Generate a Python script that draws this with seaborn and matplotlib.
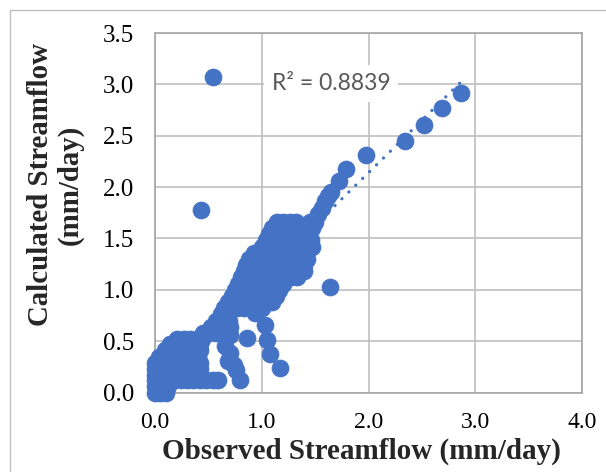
import matplotlib
matplotlib.use("Agg")
import matplotlib.pyplot as plt
from matplotlib.patches import Rectangle
import numpy as np
import pandas as pd
import seaborn as sns

# ---- data: observed vs calculated streamflow (mm/day) ----
# dense cloud near the origin and along the main diagonal band,
# grouped by calculated value -> observed values at that level
band_rows = {
    0.00: [0.00, 0.05, 0.10],
    0.06: [0.00, 0.06, 0.12],
    0.12: [0.00, 0.06, 0.12, 0.18, 0.24, 0.30, 0.36, 0.42, 0.48, 0.54, 0.59],
    0.17: [0.00, 0.06, 0.12, 0.18, 0.24, 0.30, 0.36, 0.42],
    0.23: [0.00, 0.06, 0.12, 0.18, 0.24, 0.30, 0.36, 0.42],
    0.29: [0.00, 0.06, 0.12, 0.18, 0.24, 0.30, 0.36, 0.42],
    0.35: [0.04, 0.10, 0.16, 0.22, 0.28, 0.34, 0.40],
    0.41: [0.09, 0.15, 0.21, 0.27, 0.33, 0.39, 0.42],
    0.47: [0.14, 0.20, 0.26, 0.32, 0.38, 0.42],
    0.52: [0.21, 0.27, 0.33, 0.39, 0.44],
    0.58: [0.45, 0.51, 0.57, 0.63, 0.69],
    0.64: [0.52, 0.58, 0.64, 0.70],
    0.70: [0.57, 0.63, 0.69],
    0.76: [0.62, 0.68],
    0.82: [0.65, 0.71, 0.77, 0.83, 0.89, 0.95, 1.00],
    0.88: [0.68, 0.74, 0.80, 0.86, 0.92, 0.98, 1.04, 1.10],
    0.94: [0.72, 0.78, 0.84, 0.90, 0.96, 1.02, 1.08, 1.13],
    1.00: [0.75, 0.81, 0.87, 0.93, 0.99, 1.05, 1.11, 1.16],
    1.06: [0.78, 0.84, 0.90, 0.96, 1.02, 1.08, 1.14, 1.20],
    1.12: [0.81, 0.87, 0.93, 0.99, 1.05, 1.11, 1.27, 1.33],
    1.18: [0.83, 0.89, 0.95, 1.01, 1.07, 1.12, 1.28, 1.34, 1.40],
    1.24: [0.85, 0.91, 0.97, 1.03, 1.09, 1.15, 1.21, 1.27, 1.33, 1.40],
    1.30: [0.88, 0.94, 1.00, 1.06, 1.12, 1.18, 1.24, 1.30, 1.36, 1.42],
    1.36: [0.93, 0.99, 1.05, 1.11, 1.17, 1.23, 1.29, 1.35, 1.41],
    1.42: [1.00, 1.06, 1.12, 1.18, 1.24, 1.30, 1.36, 1.42, 1.47],
    1.48: [1.04, 1.10, 1.16, 1.22, 1.28, 1.34, 1.40, 1.46],
    1.54: [1.07, 1.13, 1.19, 1.25, 1.31, 1.37, 1.43],
    1.60: [1.10, 1.16, 1.22, 1.35, 1.41, 1.47],
    1.66: [1.14, 1.20, 1.26, 1.32, 1.45, 1.50],
}

# upper tail of the diagonal
tail_obs = [1.53, 1.56, 1.59, 1.62, 1.65, 1.72, 1.79, 1.98, 2.34, 2.52, 2.69, 2.87]
tail_calc = [1.74, 1.80, 1.86, 1.91, 1.95, 2.06, 2.18, 2.31, 2.45, 2.60, 2.77, 2.92]

# scattered points off the main band
outlier_obs = [0.54, 0.43, 1.64, 1.17, 1.08, 1.05, 1.03, 0.94, 0.80, 0.74,
               0.70, 0.70, 0.86, 0.66, 0.68, 0.76]
outlier_calc = [3.07, 1.78, 1.03, 0.24, 0.37, 0.51, 0.66, 0.77, 0.12, 0.27,
                0.38, 0.56, 0.53, 0.45, 0.31, 0.22]

# linear trendline reported with the fit
trend_slope = 1.02
trend_intercept = 0.10
r_squared = 0.8839

x_ticks = [0.0, 1.0, 2.0, 3.0, 4.0]
y_ticks = [0.0, 0.5, 1.0, 1.5, 2.0, 2.5, 3.0, 3.5]

# ---- assemble a tidy table ----
band_obs = [x for y, xs in band_rows.items() for x in xs]
band_calc = [y for y, xs in band_rows.items() for _ in xs]
df = pd.DataFrame({
    "observed": band_obs + tail_obs + outlier_obs,
    "calculated": band_calc + tail_calc + outlier_calc,
})

# ---- figure ----
sns.set_theme(style="white")
plt.rcParams["font.family"] = ["Liberation Serif", "DejaVu Serif"]

BLUE = "#4472C4"
GRID = "#BFBFBF"

fig = plt.figure(figsize=(6.06, 4.72), dpi=100)
ax = fig.add_axes([155 / 606, 1 - 392.5 / 472, (582 - 155) / 606, (392.5 - 33) / 472])

ax.set_xlim(0, 4.0)
ax.set_ylim(0, 3.5)
ax.set_xticks(x_ticks)
ax.set_yticks(y_ticks)
ax.set_xticklabels([f"{v:.1f}" for v in x_ticks], fontsize=17)
ax.set_yticklabels([f"{v:.1f}" for v in y_ticks], fontsize=18)
ax.grid(True, color=GRID, linewidth=1.2)
ax.set_axisbelow(True)
for sp in ax.spines.values():
    sp.set_color("#A6A6A6")
    sp.set_linewidth(1.2)
ax.tick_params(axis="both", length=0, colors="black")
ax.tick_params(axis="x", pad=14)
ax.tick_params(axis="y", pad=15)

sns.scatterplot(data=df, x="observed", y="calculated", ax=ax, s=150,
                color=BLUE, edgecolor=BLUE, linewidth=0.5, alpha=1.0,
                zorder=3, clip_on=False)

# dotted linear trendline over the observed range
tx = np.array([df["observed"].min(), df["observed"].max()])
ax.plot(tx, trend_slope * tx + trend_intercept, color=BLUE, linewidth=2.4,
        linestyle=(0, (0.01, 2.9)), dash_capstyle="round", zorder=4)

ax.text(1.65, 3.01, f"R² = {r_squared:.4f}", ha="center", va="center",
        fontsize=16.5, color="#595959", family=["Lato", "DejaVu Sans"], zorder=5,
        bbox=dict(boxstyle="square,pad=0.35", facecolor="white", edgecolor="none"))

ax.set_xlabel("")
ax.set_ylabel("")
fig.text(361 / 606, 1 - 451 / 472, "Observed Streamflow (mm/day)",
         ha="center", va="center", fontsize=21, fontweight="bold")
fig.text(55 / 606, 1 - 185 / 472, "Calculated Streamflow\n(mm/day)",
         ha="center", va="center", rotation=90, fontsize=20.8,
         fontweight="bold", multialignment="center", linespacing=1.12)

# outer chart border
fig.patches.append(Rectangle((9.5 / 606, -0.1), 1.2, 1 - 9.5 / 472 + 0.1,
                             transform=fig.transFigure, fill=False,
                             edgecolor="#BFBFBF", linewidth=1.0))

fig.savefig("out.png", dpi=100)
